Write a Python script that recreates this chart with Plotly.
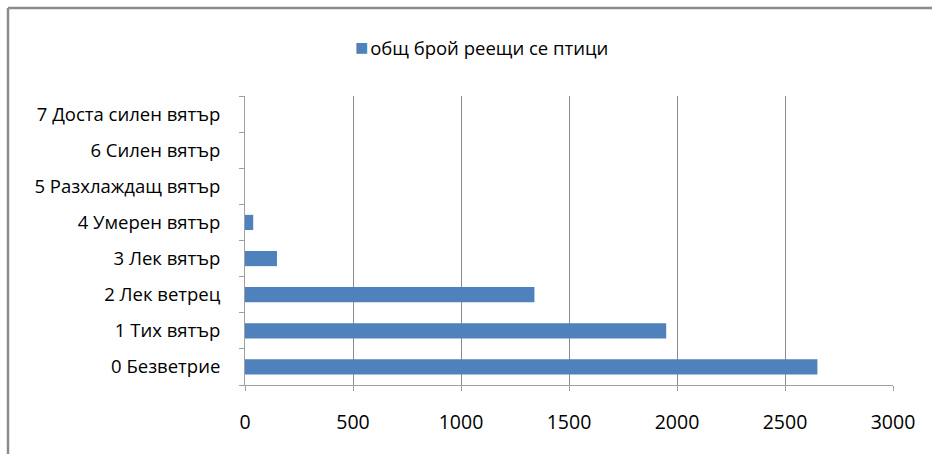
import plotly.graph_objects as go

# Beaufort wind categories (bottom to top) and count of soaring birds in each
categories = [
    "0 Безветрие",
    "1 Тих вятър",
    "2 Лек ветрец",
    "3 Лек вятър",
    "4 Умерен вятър",
    "5 Разхлаждащ вятър",
    "6 Силен вятър",
    "7 Доста силен вятър",
]
bird_counts = [2650, 1950, 1340, 148, 38, 0, 0, 0]
series_name = "общ брой реещи се птици"
x_ticks = [0, 500, 1000, 1500, 2000, 2500, 3000]

FONT = "Open Sans, Noto Sans, sans-serif"
BAR_BLUE = "#4F81BD"
GRID = "#8C8C8C"
AXIS = "#A0A0A0"

# plot-area geometry in pixels
W, H = 932, 454
L, R, T, B = 245, 39, 96, 69
pw, ph = W - L - R, H - T - B

positions = list(range(len(categories)))

fig = go.Figure(
    go.Bar(
        x=bird_counts,
        y=positions,
        orientation="h",
        name=series_name,
        marker=dict(color=BAR_BLUE, line=dict(width=0)),
        showlegend=False,
    )
)

fig.update_layout(
    width=W,
    height=H,
    margin=dict(l=L, r=R, t=T, b=B, pad=0),
    paper_bgcolor="white",
    plot_bgcolor="white",
    bargap=0.58,
    font=dict(family=FONT, size=18.5, color="#000000"),
    showlegend=False,
    xaxis=dict(
        range=[0, 3000],
        tickvals=x_ticks,
        ticktext=[str(v) for v in x_ticks],
        showgrid=True,
        gridcolor=GRID,
        gridwidth=1,
        zeroline=False,
        showline=True,
        linecolor=AXIS,
        linewidth=1,
        ticks="outside",
        ticklen=5,
        tickcolor=AXIS,
        ticklabelstandoff=15,
        tickfont=dict(family=FONT, size=19.5, color="#000000"),
        fixedrange=True,
    ),
    yaxis=dict(
        range=[-0.5, len(categories) - 0.5],
        tickvals=positions,
        ticktext=categories,
        showgrid=False,
        zeroline=False,
        showline=True,
        linecolor=AXIS,
        linewidth=1,
        ticks="",
        ticklabelstandoff=20,
        tickfont=dict(family=FONT, size=18.5, color="#000000"),
        minor=dict(
            ticks="outside",
            ticklen=5,
            tickcolor=AXIS,
            tickvals=[p - 0.5 for p in positions] + [len(categories) - 0.5],
            showgrid=False,
        ),
        fixedrange=True,
    ),
)

# legend entry: coloured square followed by the series name
fig.add_annotation(
    xref="paper", yref="paper",
    x=(353 - L) / pw, xanchor="left",
    y=1 + (T - 46) / ph, yanchor="middle",
    text=(f"<span style='color:{BAR_BLUE};font-size:22px'>■</span>"
          f"<span style='font-size:7px'> </span>{series_name}"),
    showarrow=False,
    font=dict(family=FONT, size=18.5, color="#000000"),
)

# chart-area frame (top and left edges visible within the window)
fx = (8 - L) / pw
fy = 1 + (T - 8) / ph
fig.add_shape(type="line", xref="paper", yref="paper",
              x0=fx, x1=(W + 20 - L) / pw, y0=fy, y1=fy,
              line=dict(color="#8C8C8C", width=2.5))
fig.add_shape(type="line", xref="paper", yref="paper",
              x0=fx, x1=fx, y0=fy, y1=-(B + 20) / ph,
              line=dict(color="#8C8C8C", width=2.5))

fig.write_html("out.html")
